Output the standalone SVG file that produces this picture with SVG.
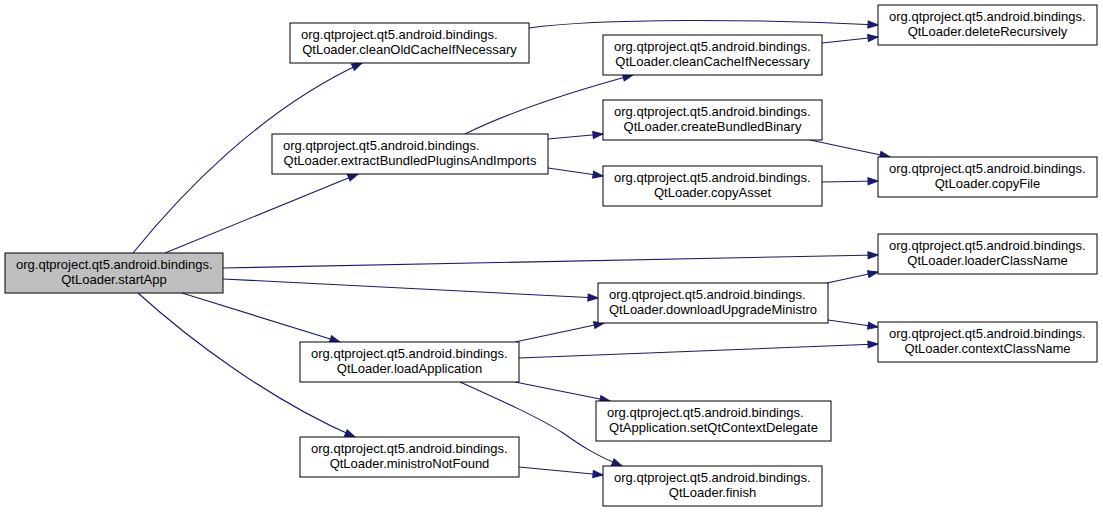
<svg xmlns="http://www.w3.org/2000/svg" width="1103" height="512" viewBox="0 0 1103 512">
<style>
.n rect{fill:#ffffff;stroke:#000000;stroke-width:1}
.n.root rect{fill:#bfbfbf}
.n text{font-family:"Liberation Sans",Arial,Helvetica,sans-serif;font-size:13px;fill:#000000}
.n text.l2{text-anchor:middle}
#edges path{fill:none;stroke:#191970;stroke-width:1.1;marker-end:url(#ah)}
</style>
<defs>
<marker id="ah" markerUnits="userSpaceOnUse" markerWidth="12" markerHeight="10" refX="11" refY="4.5" orient="auto">
<path d="M1,1 L11,4.5 L1,8 z" fill="#191970" stroke="#191970" stroke-width="1"/>
</marker>
</defs>
<rect width="1103" height="512" fill="#ffffff"/>
<g id="edges">
<path d="M133,253 C180,195 260,110 362,63"/>
<path d="M165,253 L358,174"/>
<path d="M223,268 L878,255"/>
<path d="M223,279 L598,298"/>
<path d="M182,293 L340,342"/>
<path d="M138,293 C190,340 270,400 355,437"/>
<path d="M529,28 C600,18 760,19 878,25"/>
<path d="M822,43 L878,37"/>
<path d="M465,134 C510,112 570,92 633,75"/>
<path d="M548,139 L603,134"/>
<path d="M548,168 L603,176"/>
<path d="M810,140 L890,157"/>
<path d="M822,182 L878,181"/>
<path d="M827,283 L878,272"/>
<path d="M828,320 L878,327"/>
<path d="M515,342 L604,323"/>
<path d="M519,358 L878,344"/>
<path d="M515,382 L610,401"/>
<path d="M460,382 C500,400 540,418 563,433 C580,445 595,455 622,466"/>
<path d="M519,467 L603,475"/>
</g>
<g id="startApp" class="n root"><rect x="5" y="253" width="218" height="40"/><text x="16" y="268.5">org.qtproject.qt5.android.bindings.</text><text class="l2" x="114" y="283.5">QtLoader.startApp</text></g>
<g id="cleanOldCacheIfNecessary" class="n"><rect x="290" y="23" width="239" height="40"/><text x="301" y="38.5">org.qtproject.qt5.android.bindings.</text><text class="l2" x="409.5" y="53.5">QtLoader.cleanOldCacheIfNecessary</text></g>
<g id="extractBundledPluginsAndImports" class="n"><rect x="272" y="134" width="276" height="40"/><text x="283" y="149.5">org.qtproject.qt5.android.bindings.</text><text class="l2" x="410" y="164.5">QtLoader.extractBundledPluginsAndImports</text></g>
<g id="cleanCacheIfNecessary" class="n"><rect x="603" y="35" width="219" height="40"/><text x="614" y="50.5">org.qtproject.qt5.android.bindings.</text><text class="l2" x="712.5" y="65.5">QtLoader.cleanCacheIfNecessary</text></g>
<g id="createBundledBinary" class="n"><rect x="603" y="100" width="219" height="40"/><text x="614" y="115.5">org.qtproject.qt5.android.bindings.</text><text class="l2" x="712.5" y="130.5">QtLoader.createBundledBinary</text></g>
<g id="copyAsset" class="n"><rect x="603" y="166" width="219" height="40"/><text x="614" y="181.5">org.qtproject.qt5.android.bindings.</text><text class="l2" x="712.5" y="196.5">QtLoader.copyAsset</text></g>
<g id="deleteRecursively" class="n"><rect x="878" y="5" width="219" height="40"/><text x="889" y="20.5">org.qtproject.qt5.android.bindings.</text><text class="l2" x="987.5" y="35.5">QtLoader.deleteRecursively</text></g>
<g id="copyFile" class="n"><rect x="878" y="157" width="219" height="40"/><text x="889" y="172.5">org.qtproject.qt5.android.bindings.</text><text class="l2" x="987.5" y="187.5">QtLoader.copyFile</text></g>
<g id="loaderClassName" class="n"><rect x="878" y="234" width="219" height="40"/><text x="889" y="249.5">org.qtproject.qt5.android.bindings.</text><text class="l2" x="987.5" y="264.5">QtLoader.loaderClassName</text></g>
<g id="contextClassName" class="n"><rect x="878" y="322" width="219" height="40"/><text x="889" y="337.5">org.qtproject.qt5.android.bindings.</text><text class="l2" x="987.5" y="352.5">QtLoader.contextClassName</text></g>
<g id="downloadUpgradeMinistro" class="n"><rect x="598" y="283" width="230" height="40"/><text x="609" y="298.5">org.qtproject.qt5.android.bindings.</text><text class="l2" x="713" y="313.5">QtLoader.downloadUpgradeMinistro</text></g>
<g id="loadApplication" class="n"><rect x="300" y="342" width="219" height="40"/><text x="311" y="357.5">org.qtproject.qt5.android.bindings.</text><text class="l2" x="409.5" y="372.5">QtLoader.loadApplication</text></g>
<g id="setQtContextDelegate" class="n"><rect x="596" y="401" width="235" height="40"/><text x="607" y="416.5">org.qtproject.qt5.android.bindings.</text><text class="l2" x="713.5" y="431.5">QtApplication.setQtContextDelegate</text></g>
<g id="ministroNotFound" class="n"><rect x="300" y="437" width="219" height="40"/><text x="311" y="452.5">org.qtproject.qt5.android.bindings.</text><text class="l2" x="409.5" y="467.5">QtLoader.ministroNotFound</text></g>
<g id="finish" class="n"><rect x="603" y="466" width="219" height="40"/><text x="614" y="481.5">org.qtproject.qt5.android.bindings.</text><text class="l2" x="712.5" y="496.5">QtLoader.finish</text></g>
</svg>
